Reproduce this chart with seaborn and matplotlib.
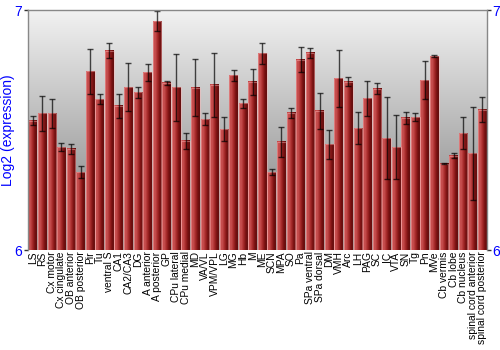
import numpy as np
import pandas as pd
import matplotlib
matplotlib.use("Agg")
import matplotlib.pyplot as plt
import seaborn as sns
from matplotlib.colors import LinearSegmentedColormap

regions = ["LS", "RS", "Cx motor", "Cx cingulate", "OB anterior", "OB posterior", "Pir", "Tu",
           "ventral S", "CA1", "CA2/CA3", "DG", "A anterior", "A posterior", "GP", "CPu lateral",
           "CPu medial", "MD", "VA/VL", "VPM/VPL", "LG", "MG", "Hb", "M", "ME", "SCN", "MPA", "SO",
           "Pa", "SPa ventral", "SPa dorsal", "DM", "VMH", "Arc", "LH", "PAG", "SC", "IC", "VTA",
           "SN", "Tg", "Pn", "MVe", "Cb vermis", "Cb lobe", "Cb nucleus", "spinal cord anterior",
           "spinal cord posterior"]
expression = [6.539, 6.569, 6.569, 6.429, 6.421, 6.325, 6.744, 6.629,
              6.830, 6.601, 6.679, 6.658, 6.740, 6.954, 6.697, 6.678,
              6.455, 6.676, 6.545, 6.688, 6.504, 6.728, 6.611, 6.701, 6.819, 6.325, 6.451, 6.571,
              6.793, 6.822, 6.580, 6.440, 6.715, 6.701, 6.508, 6.633, 6.672, 6.465, 6.429,
              6.551, 6.554, 6.708, 6.807, 6.360, 6.393, 6.486, 6.403,
              6.585]
error = [0.020, 0.073, 0.061, 0.018, 0.019, 0.027, 0.095, 0.020,
         0.032, 0.050, 0.099, 0.023, 0.036, 0.040, 0.008, 0.139,
         0.033, 0.119, 0.026, 0.134, 0.049, 0.024, 0.019, 0.055, 0.042, 0.014, 0.062, 0.019,
         0.051, 0.020, 0.074, 0.062, 0.120, 0.019, 0.067, 0.073, 0.022, 0.171, 0.135,
         0.024, 0.018, 0.080, 0.004, 0.002, 0.011, 0.067, 0.193,
         0.051]
y_ticks = [6, 7]

df = pd.DataFrame({"region": regions, "expression": expression, "error": error})

sns.set_style("white")
plt.rcParams['font.family'] = ['Liberation Sans', 'DejaVu Sans']

fig = plt.figure(figsize=(5, 3.5), dpi=100)
ax = fig.add_axes([0.056, 0.2857, 0.918, 0.6857])

sns.barplot(data=df, x="region", y="expression", errorbar=None, width=0.92,
            color="#a02828", ax=ax, zorder=2)

ymin, ymax = 6, 7
ax.set_ylim(ymin, ymax)
ax.set_xlim(-0.5, len(regions) - 0.5)

# background gradient
bg = LinearSegmentedColormap.from_list("bg", ["#f2f2f2", "#7a7a7a"])
grad = np.linspace(0, 1, 256).reshape(-1, 1)
ax.imshow(grad, cmap=bg, aspect="auto", extent=[0, 1, 0, 1],
          transform=ax.transAxes, zorder=0, interpolation="bicubic")

# bar gradient
barcm = LinearSegmentedColormap.from_list("bar", ["#c04444", "#c85050", "#a82a2a", "#7a1212", "#5e0a0a"])
hgrad = np.linspace(0, 1, 64).reshape(1, -1)
for p in ax.patches:
    x0, y0 = p.get_x(), p.get_y()
    w, h = p.get_width(), p.get_height()
    p.set_facecolor("none")
    p.set_edgecolor((1.0, 0.72, 0.72, 0.45))
    p.set_linewidth(0.8)
    p.set_zorder(3)
    ax.imshow(hgrad, cmap=barcm, aspect="auto",
              extent=[x0, x0 + w, max(y0, ymin), y0 + h],
              zorder=2, interpolation="bilinear")

ax.errorbar(np.arange(len(regions)), df["expression"], yerr=df["error"], fmt="none",
            ecolor=(0, 0, 0, 0.7), elinewidth=1.0, capsize=2.2, capthick=1.0, zorder=4)

ax.set_ylim(ymin, ymax)
ax.set_xlim(-0.5, len(regions) - 0.5)

ax.set_yticks(y_ticks)
ax.set_yticklabels([str(t) for t in y_ticks], color="blue", fontsize=10)
ax.tick_params(axis="y", which="both", left=True, right=True, labelleft=True, labelright=True,
               length=3, width=1, color="#333333", pad=1)
ax.set_ylabel("Log2 (expression)", color="blue", fontsize=10)
ax.yaxis.set_label_coords(-0.029, 0.5)
ax.set_xlabel("")
ax.set_xticks(np.arange(len(regions)))
ax.set_xticklabels(regions, rotation=90, fontsize=7.4, color="black")
ax.tick_params(axis="x", length=0, pad=1)

for s in ["left", "right", "top"]:
    ax.spines[s].set_visible(True)
    ax.spines[s].set_color("#888888")
    ax.spines[s].set_linewidth(1)
    ax.spines[s].set_zorder(5)
ax.spines["bottom"].set_visible(False)

fig.savefig("out.png", dpi=100)
